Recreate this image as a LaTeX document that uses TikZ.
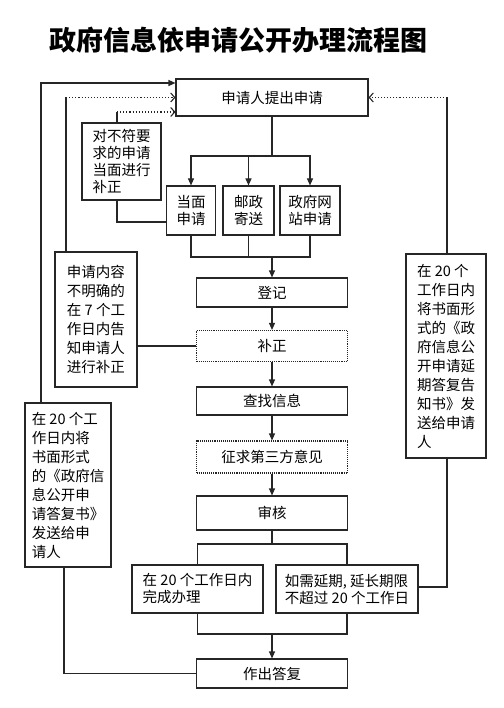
\documentclass[tikz,border=0pt]{standalone}
\usepackage{fontspec}
\setmainfont{Noto Sans CJK SC}
\usetikzlibrary{arrows.meta}
\begin{document}
\begin{tikzpicture}[x=1pt,y=-1pt,
  box/.style={draw=black!85, line width=1.1pt, inner sep=0pt, align=center,
    font=\fontsize{14.5}{17}\selectfont},
  dbox/.style={box, densely dotted},
  lbox/.style={box, align=left},
  tall/.style={font=\fontsize{14.5}{19}\selectfont},
  ln/.style={draw=black!85, line width=1.1pt},
  arr/.style={ln, -{Triangle[length=7pt,width=6pt]}},
  dotarr/.style={draw=black!85, line width=1.1pt, dotted, -{Straight Barb[length=4pt,width=9pt]}}
]
\useasboundingbox (0,0) rectangle (503,708);

\node[font=\fontsize{27}{30}\selectfont\bfseries] (title) at (238,40) {政府信息依申请公开办理流程图};

% main column
\node[box, minimum width=192pt, minimum height=37pt] (apply) at (272,97.5) {申请人提出申请};
\node[lbox, minimum width=79pt, minimum height=77pt] (fix1) at (121.5,161.5) {对不符要\\求的申请\\当面进行\\补正};
\node[box, minimum width=49pt, minimum height=49pt] (face) at (191,210.5) {当面\\申请};
\node[box, minimum width=51pt, minimum height=49pt] (post) at (248.5,210.5) {邮政\\寄送};
\node[box, minimum width=60pt, minimum height=49pt] (web) at (310,210.5) {政府网\\站申请};

\node[box, minimum width=151pt, minimum height=29pt] (reg) at (272,292.5) {登记};
\node[dbox, minimum width=151pt, minimum height=31pt] (sup) at (272,346) {补正};
\node[box, minimum width=151pt, minimum height=28pt] (find) at (272,401) {查找信息};
\node[dbox, minimum width=151pt, minimum height=32pt] (third) at (272,457) {征求第三方意见};
\node[box, minimum width=151pt, minimum height=34pt] (audit) at (272,513) {审核};
\node[lbox, minimum width=131pt, minimum height=48pt] (done) at (197.5,589) {在 20 个工作日内\\完成办理};
\node[lbox, minimum width=142pt, minimum height=48pt] (ext) at (347,589) {如需延期, 延长期限\\不超过 20 个工作日};
\node[box, minimum width=151pt, minimum height=29pt] (reply) at (272,673.5) {作出答复};

% side boxes
\node[lbox, tall, minimum width=82pt, minimum height=135pt] (unclear) at (96,319.5)
  {申请内容\\不明确的\\在 7 个工\\作日内告\\知申请人\\进行补正};
\node[lbox, tall, minimum width=80pt, minimum height=204pt] (rightbox) at (446,356)
  {在 20 个\\工作日内\\将书面形\\式的《政\\府信息公\\开申请延\\期答复告\\知书》发\\送给申请\\人};
\node[lbox, tall, minimum width=86pt, minimum height=164pt] (leftbox) at (68,485)
  {在 20 个工\\作日内将\\书面形式\\的《政府信\\息公开申\\请答复书》\\发送给申\\请人};

% split after application
\coordinate (sp1) at (272,156);
\draw[ln] (apply) -- (sp1);
\draw[arr] (sp1) -| (face.north);
\draw[arr] (sp1) -| (web.north);
\draw[arr] (post.north |- sp1) -- (post.north);

% merge to register
\coordinate (m1) at (272,257);
\draw[ln] (face.south) |- (m1);
\draw[ln] (web.south) |- (m1);
\draw[ln] (post.south) -- (post.south |- m1);
\draw[arr] (m1) -- (reg.north);

\draw[arr] (reg) -- (sup);
\draw[arr] (sup) -- (find);
\draw[arr] (find) -- (third);
\draw[arr] (third) -- (audit);

% split after audit
\coordinate (sp2) at (272,544);
\draw[ln] (audit) -- (sp2);
\draw[ln] (sp2) -| (done.north);
\draw[ln] (sp2) -| (ext.north);

% merge to reply
\coordinate (m2) at (272,634);
\draw[ln] (done.south) |- (m2);
\draw[ln] (ext.south) |- (m2);
\draw[arr] (m2) -- (reply.north);

% reply -> left box -> back to application
\coordinate (c1) at (64,673.5);
\draw[ln] (reply.west) -- (c1) -- (c1 |- leftbox.south);
\coordinate (c0) at (41,83);
\draw[arr] (c0 |- leftbox.north) -- (c0) -- (c0 -| apply.west);

% unclear box
\coordinate (c2) at (66,97.5);
\draw[ln] (c2 |- unclear.north) -- (c2);
\draw[dotarr] (c2) -- (apply.west);
\draw[ln] (unclear.east |- sup.west) -- (sup.west);

% fix1 box
\coordinate (c3) at (117,222);
\draw[ln] (c3 |- fix1.south) -- (c3) -- (c3 -| face.west);
\coordinate (c4) at (117,112);
\draw[ln] (c4 |- fix1.north) -- (c4);
\draw[dotarr] (c4) -- (c4 -| apply.west);

% right box
\coordinate (c5) at (447,97.5);
\draw[ln] (c5 |- rightbox.north) -- (c5);
\draw[dotarr] (c5) -- (apply.east);
\coordinate (c6) at (447,587);
\draw[ln] (c5 |- rightbox.south) -- (c6) -- (c6 -| ext.east);
\end{tikzpicture}
\end{document}
